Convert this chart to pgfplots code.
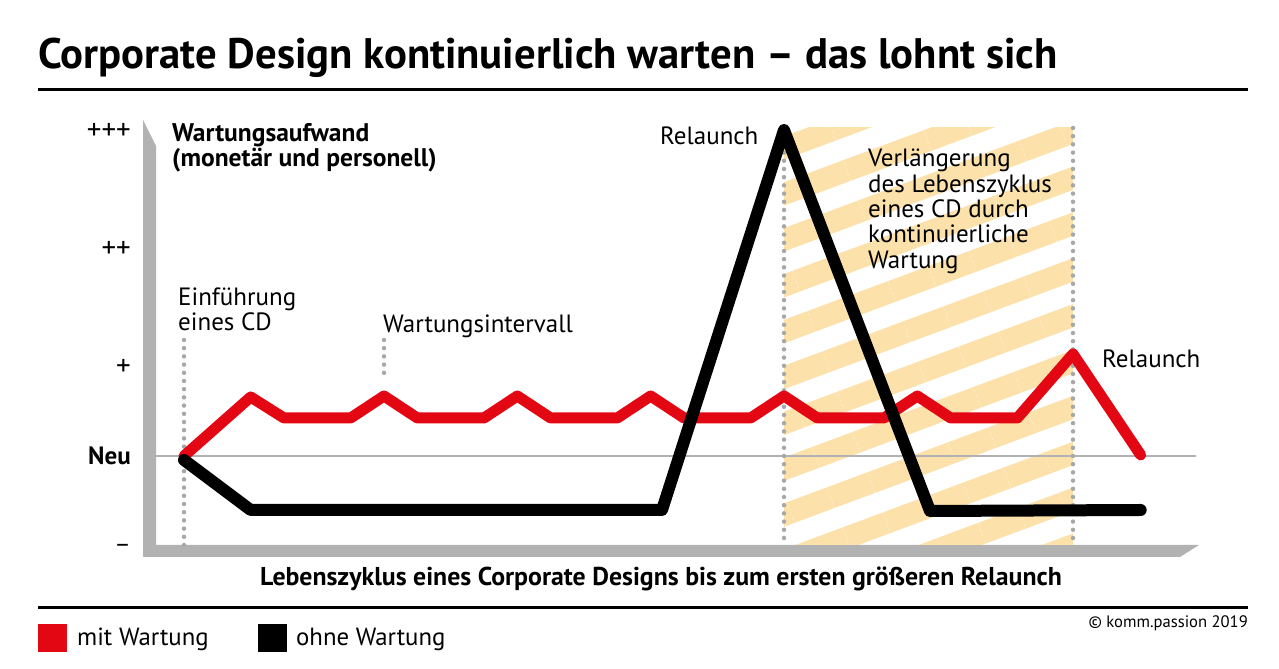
\documentclass[border=0pt]{standalone}
\usepackage{fontspec}
\setmainfont{PT Sans}
\usepackage{pgfplots}
\pgfplotsset{compat=1.18}
\usetikzlibrary{patterns.meta}
\definecolor{cdred}{HTML}{E30613}
\definecolor{axgray}{HTML}{B2B2B2}
\definecolor{hatch}{HTML}{FCE2AA}
\definecolor{dotgray}{HTML}{A8A8A8}
\newcommand{\fs}[1]{\fontsize{#1bp}{#1bp}\selectfont}
\begin{document}
\begin{tikzpicture}[x=1bp,y=1bp]
\path (0,0) rectangle (1279,669);
% grey L-shaped axis bars
\fill[axgray] (143,549) -- (156,523) -- (156,124) -- (1199,124) -- (1180,112) -- (143,112) -- cycle;
\begin{axis}[
  at={(184bp,213bp)}, anchor=origin,
  x=33.333bp, y=100bp,
  xmin=-1.23, xmax=30.45, ymin=-1.01, ymax=3.36,
  clip=false,
  axis line style={draw=none},
  major tick length=0pt,
  xtick=\empty,
  ytick={-0.92,0,0.89,2.07,3.25},
  yticklabels={{\fs{25}–},{\fs{25}\bfseries Neu},{\fs{29}+},{\fs{29}++},{\fs{29}+++}},
  yticklabel style={anchor=east, inner sep=0pt, xshift=-12bp},
]
% hatched extension region
\addplot[draw=none, pattern={Lines[angle=20.4,distance=43bp,line width=22bp]}, pattern color=hatch]
  coordinates {(18,-0.89) (26.67,-0.89) (26.67,3.28) (18,3.28)} -- cycle;
% zero line
\addplot[axgray, line width=2.5bp] coordinates {(-0.84,0) (30.36,0)};
% dotted markers
\addplot[dotgray, line width=4.5bp, line cap=round, dash pattern=on 0bp off 8.2bp] coordinates {(0,1.16) (0,-0.89)};
\addplot[dotgray, line width=4.5bp, line cap=round, dash pattern=on 0bp off 8.2bp] coordinates {(6,1.16) (6,0.76)};
\addplot[dotgray, line width=4.5bp, line cap=round, dash pattern=on 0bp off 8.2bp] coordinates {(18,3.28) (18,-0.89)};
\addplot[dotgray, line width=4.5bp, line cap=round, dash pattern=on 0bp off 8.2bp] coordinates {(26.67,3.28) (26.67,-0.89)};
% mit Wartung
\addplot[cdred, line width=11bp, line cap=round, line join=round] coordinates {
 (0,0) (2,0.59) (3,0.38) (5,0.38) (6,0.60) (7,0.38) (9,0.38) (10,0.60) (11,0.38)
 (13,0.38) (14,0.60) (15,0.38) (17,0.38) (18,0.60) (19,0.38) (21,0.38) (22,0.60)
 (23,0.38) (25,0.38) (26.67,1.02) (28.7,0.01)};
% ohne Wartung
\addplot[black, line width=12bp, line cap=round, line join=round] coordinates {
 (0,-0.04) (2,-0.54) (14.34,-0.54) (18,3.26) (22.38,-0.55) (28.7,-0.54)};
\end{axis}
% title and rules
\node[anchor=base west, inner sep=0pt] at (38,600) {\fs{42.7}\bfseries Corporate Design kontinuierlich warten – das lohnt sich};
\draw[line width=3bp] (38,579) -- (1248,579);
\draw[line width=3bp] (38,61) -- (1248,61);
% annotations
\node[anchor=base west, inner sep=0pt] at (172,527) {\fs{25.5}\bfseries Wartungsaufwand};
\node[anchor=base west, inner sep=0pt] at (172,502) {\fs{25.5}\bfseries (monetär und personell)};
\node[anchor=base west, inner sep=0pt] at (660,524) {\fs{25}Relaunch};
\node[anchor=base west, inner sep=0pt] at (178,363) {\fs{25}Einführung};
\node[anchor=base west, inner sep=0pt] at (178,338) {\fs{25}eines CD};
\node[anchor=base west, inner sep=0pt] at (383,336) {\fs{25}Wartungsintervall};
\node[anchor=base west, inner sep=0pt] at (868,502) {\fs{25}Verlängerung};
\node[anchor=base west, inner sep=0pt] at (868,476.7) {\fs{25}des Lebenszyklus};
\node[anchor=base west, inner sep=0pt] at (868,451.4) {\fs{25}eines CD durch};
\node[anchor=base west, inner sep=0pt] at (868,426.1) {\fs{25}kontinuierliche};
\node[anchor=base west, inner sep=0pt] at (868,400.8) {\fs{25}Wartung};
\node[anchor=base west, inner sep=0pt] at (1102,301) {\fs{25}Relaunch};
\node[anchor=base, inner sep=0pt] at (661,83) {\fs{25.8}\bfseries Lebenszyklus eines Corporate Designs bis zum ersten größeren Relaunch};
% legend
\fill[cdred] (38,17) rectangle (67,45);
\fill[black] (258,17) rectangle (287,45);
\node[anchor=base west, inner sep=0pt] at (77,23) {\fs{24.8}mit Wartung};
\node[anchor=base west, inner sep=0pt] at (296,23) {\fs{24.8}ohne Wartung};
\node[anchor=base east, inner sep=0pt] at (1248,41) {\fs{16.6}© komm.passion 2019};
\pgfresetboundingbox
\path (0,0) rectangle (1279,669);
\end{tikzpicture}
\end{document}
